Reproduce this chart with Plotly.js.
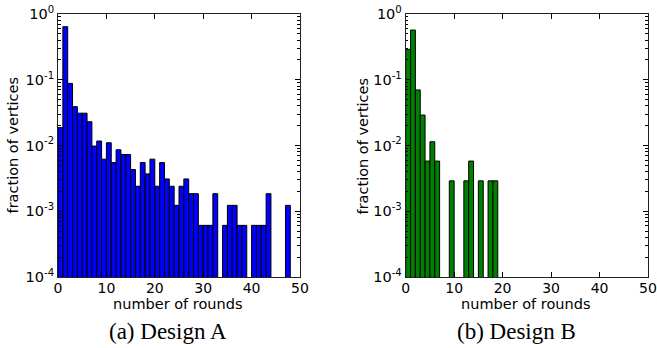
<!DOCTYPE html>
<html>
<head>
<meta charset="utf-8">
<script src="https://cdn.plot.ly/plotly-3.0.1.min.js"></script>
<style>html,body{margin:0;padding:0;background:#fff;}#chart{width:657px;height:348px;}</style>
</head>
<body>
<div id="chart"></div>
<script>
// Bin left edges (number of rounds) and fraction of vertices per bin
const roundsA = [0,1,2,3,4,5,6,7,8,9,10,11,12,13,14,15,16,17,18,19,20,21,22,23,24,25,26,27,28,29,30,31,32,33,34,35,36,37,38,39,40,41,42,43,44,45,46,47];
const fractionA = [0.0187,0.64,0.088,0.039,0.031,0.031,0.023,0.0098,0.0117,0.0062,0.011,0.0055,0.0086,0.0073,0.0073,0.0043,0.0024,0.0055,0.0037,0.0062,0.0024,0.0055,0.0031,0.0024,0.00123,0.0024,0.0031,0.00185,0.00185,0.00061,0.00061,0.00061,0.00185,null,0.00061,0.00123,0.00123,0.00061,0.00061,null,0.00061,0.00061,0.00061,0.00185,null,null,null,0.00123];
const roundsB = [0,1,2,3,4,5,6,7,8,9,10,11,12,13,14,15,16,17,18];
const fractionB = [0.29,0.57,0.07,0.029,0.0058,0.0114,0.0058,null,null,0.0029,null,null,0.0029,0.0058,null,0.0029,null,0.0029,0.0029];

const xTickVals = [0,10,20,30,40,50];
const yTickVals = [1e-4,1e-3,1e-2,1e-1,1];
const yTickText = ['10<sup>-4</sup>','10<sup>-3</sup>','10<sup>-2</sup>','10<sup>-1</sup>','10<sup>0</sup>'];
const xTitle = 'number of rounds';
const yTitle = 'fraction of vertices';
const captions = ['(a) Design A','(b) Design B'];

const FONT = 'DejaVu Sans, sans-serif';
const SERIF = 'Liberation Serif, Times New Roman, serif';

function bars(x, y, color, xa, ya){
  return {type:'bar', x:x, y:y, xaxis:xa, yaxis:ya, width:1, offset:0,
    marker:{color:color, line:{color:'#000', width:1}}, showlegend:false, hoverinfo:'x+y'};
}

function xaxis(domain, anchor){
  return {domain:domain, anchor:anchor, range:[0,50], tickmode:'array', tickvals:xTickVals,
    ticks:'inside', ticklen:5, tickcolor:'#000', ticklabelstandoff:-2, showline:true, linecolor:'#222', linewidth:1,
    mirror:'allticks', showgrid:false, zeroline:false, tickfont:{family:FONT, size:14, color:'#000'}};
}
function yaxis(anchor){
  return {domain:[0.204,0.9598], anchor:anchor, type:'log', range:[-4,0], tickmode:'array',
    tickvals:yTickVals, ticktext:yTickText, ticks:'inside', ticklen:5, tickcolor:'#000',
    minor:{ticks:'inside', ticklen:2.5, tickcolor:'#000', dtick:'D1', showgrid:false},
    showline:true, linecolor:'#222', linewidth:1, mirror:'allticks', showgrid:false, zeroline:false,
    tickfont:{family:FONT, size:14.5, color:'#000'}};
}

const data = [
  bars(roundsA, fractionA, '#0000ff', 'x', 'y'),
  bars(roundsB, fractionB, '#008000', 'x2', 'y2')
];

const layout = {
  width:657, height:348, margin:{l:0,r:0,t:0,b:0}, paper_bgcolor:'#fff', plot_bgcolor:'#fff',
  bargap:0,
  xaxis: xaxis([0.0883,0.4566],'y'),
  yaxis: yaxis('x'),
  xaxis2: xaxis([0.6175,0.9863],'y2'),
  yaxis2: yaxis('x2'),
  annotations: [
    {text:xTitle, xref:'paper', yref:'paper', x:0.2705, y:0.127, xanchor:'center', yanchor:'middle', showarrow:false, font:{family:FONT,size:14.5,color:'#000'}},
    {text:xTitle, xref:'paper', yref:'paper', x:0.8005, y:0.127, xanchor:'center', yanchor:'middle', showarrow:false, font:{family:FONT,size:14.5,color:'#000'}},
    {text:yTitle, xref:'paper', yref:'paper', x:0.0198, y:0.582, xanchor:'center', yanchor:'middle', textangle:-90, showarrow:false, font:{family:FONT,size:14.5,color:'#000'}},
    {text:yTitle, xref:'paper', yref:'paper', x:0.5525, y:0.582, xanchor:'center', yanchor:'middle', textangle:-90, showarrow:false, font:{family:FONT,size:14.5,color:'#000'}},
    {text:captions[0], xref:'paper', yref:'paper', x:0.2557, y:0.047, xanchor:'center', yanchor:'middle', showarrow:false, font:{family:SERIF,size:23,color:'#000'}},
    {text:captions[1], xref:'paper', yref:'paper', x:0.7854, y:0.047, xanchor:'center', yanchor:'middle', showarrow:false, font:{family:SERIF,size:23,color:'#000'}}
  ]
};

Plotly.newPlot('chart', data, layout, {staticPlot:true, displayModeBar:false});
</script>
</body>
</html>
